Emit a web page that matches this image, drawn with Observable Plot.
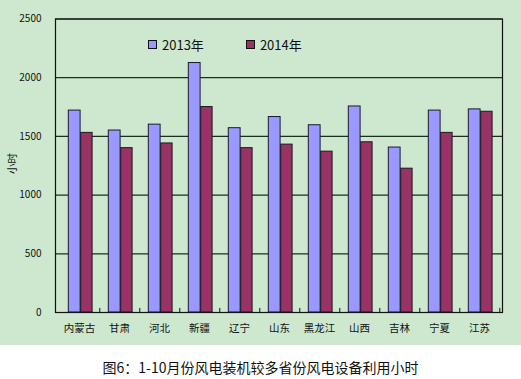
<!DOCTYPE html>
<html><head><meta charset="utf-8">
<script src="https://cdn.jsdelivr.net/npm/d3@7"></script>
<script src="https://cdn.jsdelivr.net/npm/@observablehq/plot@0.6"></script>
<style>
body{margin:0;background:#fff;width:521px;height:379px;overflow:hidden;font-family:"Noto Sans CJK SC","DejaVu Sans",sans-serif}
#wrap{position:relative;width:521px;height:345px;background:#cde8cf}
#legend{position:absolute;left:148px;top:35px;font-size:13px;color:#111;display:flex;gap:0;align-items:center}
#legend .it{display:flex;align-items:center;margin-right:42px}
#legend .sw{width:7px;height:7px;border:1px solid #111;margin-right:5px}
#ylab{position:absolute;left:1px;top:156px;font-size:10.5px;transform:rotate(-90deg);transform-origin:center;color:#111}
#caption{position:absolute;top:357px;left:0;width:521px;text-align:center;font-size:14px;color:#111}
</style></head><body>
<div id="wrap"><div id="ylab">小时</div><div id="legend"></div></div>
<div id="caption">图6：1-10月份风电装机较多省份风电设备利用小时</div>
<script>
const provinces = ["内蒙古","甘肃","河北","新疆","辽宁","山东","黑龙江","山西","吉林","宁夏","江苏"];
const hours2013 = [1720,1550,1600,2125,1570,1665,1595,1755,1405,1720,1730];
const hours2014 = [1530,1400,1440,1750,1400,1430,1370,1450,1225,1530,1710];
const yTicks = [0,500,1000,1500,2000,2500];
const seriesNames = ["2013年","2014年"];
const seriesColors = ["#9999ff","#993366"];

const chart = Plot.plot({
  width: 521, height: 345,
  marginLeft: 55, marginRight: 19, marginTop: 18.5, marginBottom: 33,
  style: {background: "transparent", fontFamily: '"Noto Sans CJK SC","DejaVu Sans",sans-serif', color: "#111"},
  x: {domain: provinces, padding: 0, label: null},
  y: {domain: [0, 2500], label: null},
  marks: [
    Plot.gridY(yTicks, {stroke: "#1d2e1d", strokeOpacity: 1, strokeWidth: 1.2}),
    Plot.barY(provinces, {x: d => d, y: (d, i) => hours2013[i], fill: seriesColors[0], stroke: "#1a1a30", strokeWidth: 1, insetLeft: 9.3, insetRight: 18.9}),
    Plot.barY(provinces, {x: d => d, y: (d, i) => hours2014[i], fill: seriesColors[1], stroke: "#1a1a20", strokeWidth: 1, insetLeft: 21.7, insetRight: 6.9}),
    Plot.ruleX(provinces, {x: d => d, dx: 20.3, y1: 0, y2: 35, stroke: "#111"}),
    Plot.frame({stroke: "#111", strokeWidth: 1.2}),
    Plot.axisY(yTicks, {tickSize: 0, tickPadding: 14, fontSize: 10, label: null, tickFormat: d => String(d)}),
    Plot.axisX({tickSize: 0, tickPadding: 12, fontSize: 10.5, label: null})
  ]
});
chart.style.position = "absolute";
chart.style.left = "0";
chart.style.top = "0";
document.getElementById("wrap").prepend(chart);

const legend = document.getElementById("legend");
seriesNames.forEach((n, i) => {
  const it = document.createElement("div"); it.className = "it";
  const sw = document.createElement("div"); sw.className = "sw"; sw.style.background = seriesColors[i];
  const t = document.createElement("span"); t.textContent = n;
  it.append(sw, t); legend.append(it);
});
</script>
</body></html>
